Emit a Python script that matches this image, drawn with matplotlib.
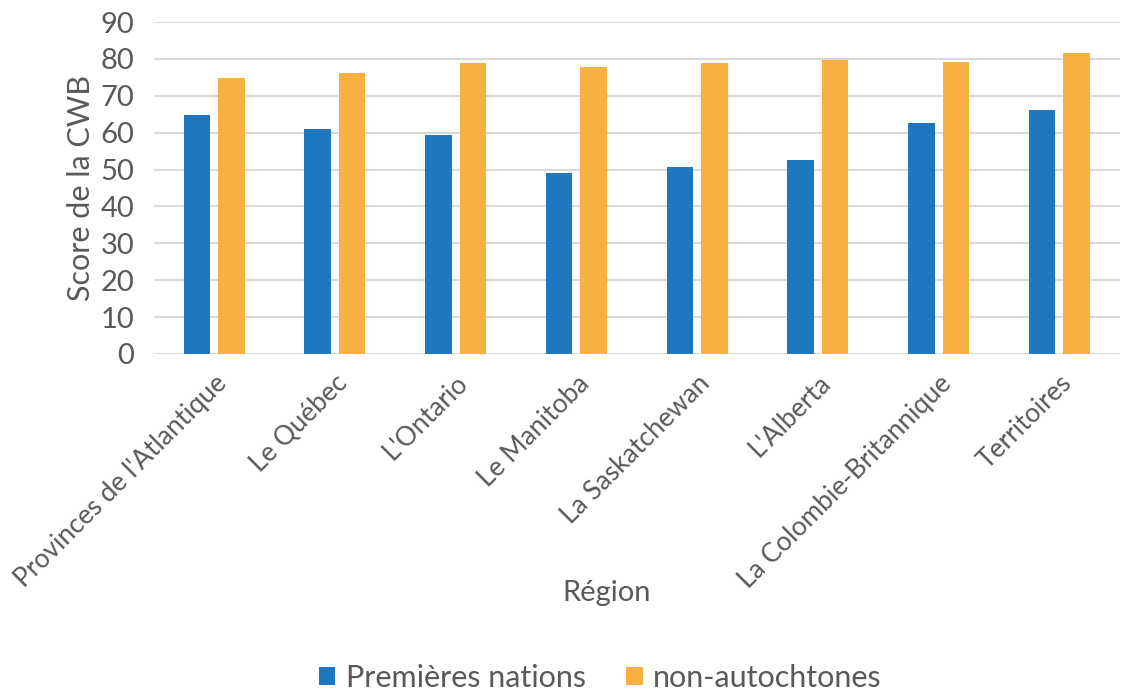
import numpy as np
import matplotlib
import matplotlib.pyplot as plt

matplotlib.rc("font", family=["Lato", "DejaVu Sans"])

# Data
regions = [
    "Provinces de l'Atlantique",
    "Le Québec",
    "L'Ontario",
    "Le Manitoba",
    "La Saskatchewan",
    "L'Alberta",
    "La Colombie-Britannique",
    "Territoires",
]
premieres_nations = [64.8, 61.1, 59.3, 49.0, 50.8, 52.7, 62.7, 66.2]
non_autochtones = [74.8, 76.2, 79.0, 77.8, 79.0, 79.8, 79.3, 81.5]
series_labels = ["Premières nations", "non-autochtones"]

blue = "#1f77bd"
orange = "#f9b043"
grey = "#595959"

fig = plt.figure(figsize=(11.22, 6.9), dpi=100)
ax = fig.add_axes([0.137, 0.487, 0.861, 0.481])

x = np.arange(len(regions))
w = 0.22
off = 0.143
ax.bar(x - off, premieres_nations, w, color=blue, label=series_labels[0], zorder=3)
ax.bar(x + off, non_autochtones, w, color=orange, label=series_labels[1], zorder=3)

ax.set_xlim(-0.5, len(regions) - 0.5)
ax.set_ylim(0, 90)
ax.set_yticks(range(0, 91, 10))
ax.yaxis.grid(True, color="#d9d9d9", linewidth=1.5, zorder=0)
for s in ax.spines.values():
    s.set_visible(False)
ax.tick_params(axis="both", length=0, colors=grey)
ax.tick_params(axis="y", labelsize=21, pad=14)
ax.set_xticks(x)
ax.set_xticklabels(regions, rotation=45, ha="right", rotation_mode="anchor", fontsize=19)
ax.tick_params(axis="x", pad=12)

ax.set_ylabel("Score de la CWB", fontsize=22, color=grey, labelpad=4)
fig.text(0.541, 0.14, "Région", fontsize=21, color=grey, ha="center", va="center")

leg = fig.legend(loc="center", bbox_to_anchor=(0.535, 0.018), ncol=2, frameon=False,
                 fontsize=22, handlelength=0.55, handleheight=0.55, columnspacing=1.3,
                 handletextpad=0.35)
for t in leg.get_texts():
    t.set_color(grey)

fig.savefig("out.png", dpi=100)
